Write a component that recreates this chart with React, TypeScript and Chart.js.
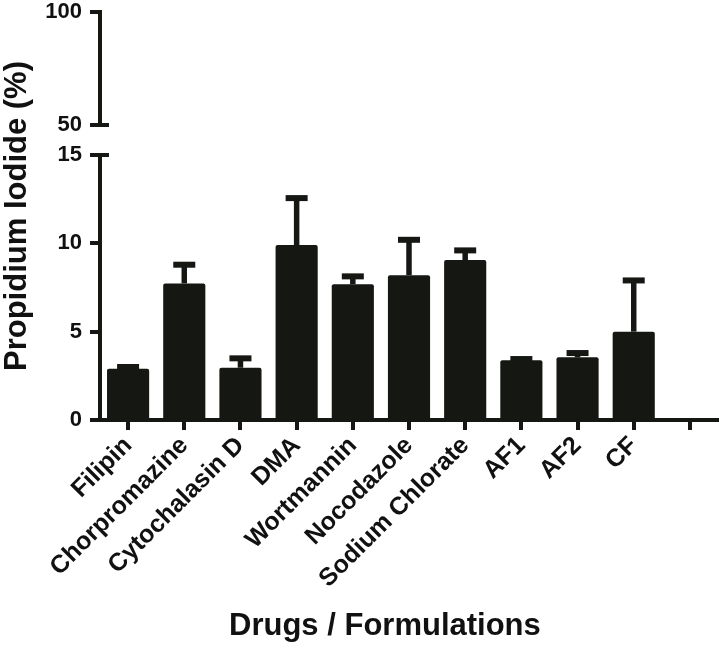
import React, { useEffect, useRef } from "react";
import { Chart, registerables } from "chart.js";

Chart.register(...registerables);

// ---- data ----
const categories = [
  "Filipin",
  "Chorpromazine",
  "Cytochalasin D",
  "DMA",
  "Wortmannin",
  "Nocodazole",
  "Sodium Chlorate",
  "AF1",
  "AF2",
  "CF",
  "",
];
const meanValues: (number | null)[] = [2.9, 7.73, 2.96, 9.9, 7.68, 8.2, 9.05, 3.38, 3.55, 5.0, null];
const errorValues: (number | null)[] = [0.1, 1.06, 0.53, 2.66, 0.45, 2.0, 0.55, 0.07, 0.24, 2.9, null];
const lowerTicks = [0, 5, 10, 15];
const upperTicks = [50, 100];
const yTitle = "Propidium Iodide (%)";
const xTitle = "Drugs / Formulations";

const INK = "#151713";
const TEXT = "#111111";
const FAMILY = "'Liberation Sans', Arial, Helvetica, sans-serif";

const overlayPlugin = {
  id: "overlay",
  afterDatasetsDraw(chart: any) {
    const ctx = chart.ctx;
    const meta = chart.getDatasetMeta(0);
    const yS = chart.scales.yLow;
    ctx.save();
    ctx.strokeStyle = INK;
    meta.data.forEach((bar: any, i: number) => {
      const m = meanValues[i];
      const e = errorValues[i];
      if (m == null || e == null) return;
      const yBase = yS.getPixelForValue(m);
      const yTop = yS.getPixelForValue(m + e);
      ctx.lineCap = "butt";
      ctx.lineWidth = 5.5;
      ctx.beginPath();
      ctx.moveTo(bar.x, yBase);
      ctx.lineTo(bar.x, yTop);
      ctx.stroke();
      ctx.lineWidth = 6;
      ctx.beginPath();
      ctx.moveTo(bar.x - 11, yTop);
      ctx.lineTo(bar.x + 11, yTop);
      ctx.stroke();
    });
    ctx.restore();
  },
  afterDraw(chart: any) {
    const ctx = chart.ctx;
    const yTopS = chart.scales.yTop;
    const yLowS = chart.scales.yLow;
    const xS = chart.scales.x;
    ctx.save();
    // axis break marks
    ctx.strokeStyle = INK;
    ctx.lineWidth = 4;
    ctx.lineCap = "butt";
    const ax = yLowS.right;
    [yTopS.getPixelForValue(yTopS.min), yLowS.getPixelForValue(yLowS.max)].forEach((py: number) => {
      ctx.beginPath();
      ctx.moveTo(ax - 1, py);
      ctx.lineTo(ax + 9, py);
      ctx.stroke();
    });
    // x title, centred under the data categories
    const x0 = xS.getPixelForValue(0);
    const x1 = xS.getPixelForValue(9);
    ctx.fillStyle = TEXT;
    ctx.font = `bold 31px ${FAMILY}`;
    ctx.textAlign = "center";
    ctx.textBaseline = "alphabetic";
    ctx.fillText(xTitle, (x0 + x1) / 2 + 4, xS.bottom - 17);
    ctx.restore();
  },
};

const setYWidth = (scale: any) => {
  scale.width = 60;
  scale.paddingTop = 0;
  scale.paddingBottom = 0;
  scale.paddingLeft = 0;
  scale.paddingRight = 0;
};

export default function App() {
  const ref = useRef<HTMLCanvasElement | null>(null);

  useEffect(() => {
    if (!ref.current) return;
    const tickFont = { family: FAMILY, size: 22, weight: "bold" as const };
    const xTickFont = { family: FAMILY, size: 25, weight: "bold" as const };
    const chart = new Chart(ref.current, {
      type: "bar",
      data: {
        labels: categories,
        datasets: [
          {
            data: meanValues as any,
            backgroundColor: INK,
            borderWidth: 0,
            borderRadius: 2,
            borderSkipped: "bottom",
            barPercentage: 0.75,
            categoryPercentage: 1,
            xAxisID: "x",
            yAxisID: "yLow",
          },
        ],
      },
      options: {
        responsive: false,
        animation: false,
        devicePixelRatio: 1,
        layout: { padding: { top: 12, left: 0, right: 1, bottom: 0 } },
        plugins: {
          legend: { display: false },
          tooltip: { enabled: false },
          title: {
            display: true,
            position: "left",
            fullSize: false,
            text: yTitle,
            color: TEXT,
            font: { family: FAMILY, size: 31, weight: "bold", lineHeight: 1.1 },
            padding: { top: 0, bottom: 5.9 },
          },
        },
        scales: {
          x: {
            type: "category",
            position: "bottom",
            offset: true,
            grid: {
              display: true,
              offset: false,
              drawOnChartArea: false,
              drawTicks: true,
              tickLength: 10,
              lineWidth: 4,
              color: INK,
            },
            border: { display: true, width: 4, color: INK },
            ticks: {
              autoSkip: false,
              minRotation: 45,
              maxRotation: 45,
              padding: 1,
              color: TEXT,
              font: xTickFont,
            },
            afterFit: (scale: any) => {
              scale.height = 232;
              scale.paddingLeft = 0;
              scale.paddingRight = 0;
              scale.paddingTop = 0;
              scale.paddingBottom = 0;
            },
          },
          yTop: {
            type: "linear",
            position: "left",
            stack: "yaxis",
            stackWeight: 113,
            weight: 3,
            min: upperTicks[0],
            max: upperTicks[upperTicks.length - 1],
            afterBuildTicks: (scale: any) => {
              scale.ticks = upperTicks.map((v) => ({ value: v }));
            },
            grid: {
              display: true,
              drawOnChartArea: false,
              drawTicks: true,
              tickLength: 10,
              lineWidth: 4,
              color: INK,
            },
            border: { display: true, width: 4, color: INK },
            ticks: { padding: 8, color: TEXT, font: tickFont },
            afterFit: setYWidth,
          },
          ySpacer: {
            type: "linear",
            position: "left",
            stack: "yaxis",
            stackWeight: 30,
            weight: 2,
            min: 0,
            max: 1,
            grid: { display: false },
            border: { display: false },
            ticks: { display: false },
            afterFit: setYWidth,
          },
          yLow: {
            type: "linear",
            position: "left",
            stack: "yaxis",
            stackWeight: 265,
            weight: 1,
            min: lowerTicks[0],
            max: lowerTicks[lowerTicks.length - 1],
            afterBuildTicks: (scale: any) => {
              scale.ticks = lowerTicks.map((v) => ({ value: v }));
            },
            grid: {
              display: true,
              drawOnChartArea: false,
              drawTicks: true,
              tickLength: 10,
              lineWidth: 4,
              color: INK,
            },
            border: { display: true, width: 4, color: INK },
            ticks: { padding: 8, color: TEXT, font: tickFont },
            afterFit: setYWidth,
          },
        },
      } as any,
      plugins: [overlayPlugin],
    });
    return () => chart.destroy();
  }, []);

  return (
    <div style={{ position: "fixed", left: 0, top: 0, width: 719, height: 652, background: "#fff" }}>
      <canvas ref={ref} width={719} height={652} style={{ display: "block", width: 719, height: 652 }} />
    </div>
  );
}
